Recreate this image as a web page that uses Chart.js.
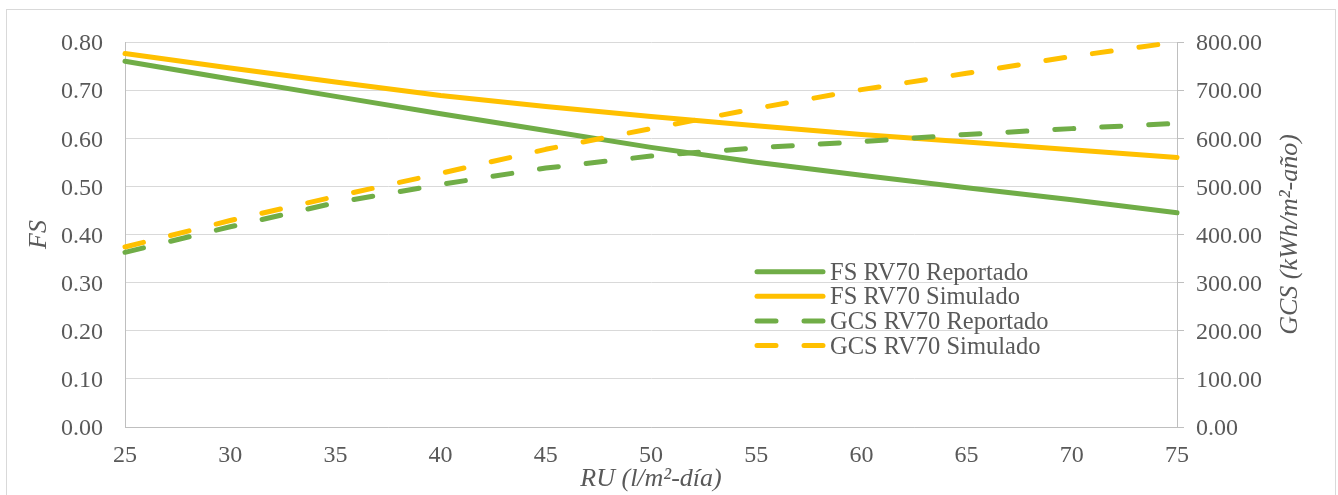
<!DOCTYPE html>
<html>
<head>
<meta charset="utf-8">
<script src="https://cdn.jsdelivr.net/npm/chart.js@4"></script>
<style>
  html, body { margin: 0; padding: 0; background: #fff; }
  #wrap { width: 1338px; height: 495px; }
</style>
</head>
<body>
<div id="wrap"><canvas id="chart"></canvas></div>
<script>
// RU (l/m2-dia) on the x axis
const ru = [25, 30, 35, 40, 45, 50, 55, 60, 65, 70, 75];
// FS, left axis
const fsReportado = [0.760, 0.723, 0.687, 0.651, 0.616, 0.581, 0.550, 0.523, 0.497, 0.472, 0.445];
const fsSimulado = [0.776, 0.746, 0.717, 0.689, 0.666, 0.645, 0.626, 0.608, 0.592, 0.576, 0.560];
// GCS (kWh/m2-año), right axis
const gcsReportado = [363, 416, 466, 504, 538, 563, 580, 593, 608, 620, 631];
const gcsSimulado = [374, 429, 479, 527, 577, 620, 662, 701, 735, 770, 800];

const seriesLabels = ['FS RV70 Reportado', 'FS RV70 Simulado', 'GCS RV70 Reportado', 'GCS RV70 Simulado'];

const GREEN = '#70AD47';
const GOLD = '#FFC000';
const TEXT = '#595959';
const FONT = '"Liberation Serif", "Times New Roman", serif';
const LINE_W = 5;
const DASH = [19, 28];

const pts = (ys) => ru.map((x, i) => ({ x: x, y: ys[i] }));

// chart frame
const framePlugin = {
    id: 'frame',
    beforeDraw(chart) {
        const ctx = chart.ctx;
        ctx.save();
        ctx.strokeStyle = '#d9d9d9';
        ctx.lineWidth = 1;
        ctx.strokeRect(6.5, 9.5, chart.width - 9, chart.height + 10);
        ctx.restore();
    }
};

// right axis title reads bottom to top, like the left one
const rightTitlePlugin = {
    id: 'rightTitle',
    afterDraw(chart) {
        const ctx = chart.ctx;
        const area = chart.chartArea;
        ctx.save();
        ctx.translate(area.right + 113, (area.top + area.bottom) / 2);
        ctx.rotate(-Math.PI / 2);
        ctx.font = 'italic 26px ' + FONT;
        ctx.fillStyle = TEXT;
        ctx.textAlign = 'center';
        ctx.textBaseline = 'middle';
        ctx.fillText('GCS (kWh/m²-año)', 0, 0);
        ctx.restore();
    }
};

// legend sits inside the plot area
const innerLegendPlugin = {
    id: 'innerLegend',
    afterDatasetsDraw(chart) {
        const ctx = chart.ctx;
        const area = chart.chartArea;
        const x0 = area.left + 632;
        const y0 = area.top + 229.7;
        const rowH = 24.6;
        ctx.save();
        chart.data.datasets.forEach((ds, i) => {
            const y = y0 + i * rowH;
            ctx.beginPath();
            ctx.strokeStyle = ds.borderColor;
            ctx.lineWidth = LINE_W;
            ctx.lineCap = 'round';
            ctx.setLineDash(ds.borderDash || []);
            ctx.moveTo(x0, y);
            ctx.lineTo(x0 + 66, y);
            ctx.stroke();
            ctx.setLineDash([]);
            ctx.font = '24.5px ' + FONT;
            ctx.fillStyle = TEXT;
            ctx.textAlign = 'left';
            ctx.textBaseline = 'alphabetic';
            ctx.fillText(ds.label, x0 + 73, y + 8);
        });
        ctx.restore();
    }
};

const ctx = document.getElementById('chart').getContext('2d');
new Chart(ctx, {
    type: 'line',
    data: {
        datasets: [
            { label: seriesLabels[0], data: pts(fsReportado), yAxisID: 'y', borderColor: GREEN, order: 1 },
            { label: seriesLabels[1], data: pts(fsSimulado), yAxisID: 'y', borderColor: GOLD, order: 1 },
            { label: seriesLabels[2], data: pts(gcsReportado), yAxisID: 'y2', borderColor: GREEN, borderDash: DASH, order: 0 },
            { label: seriesLabels[3], data: pts(gcsSimulado), yAxisID: 'y2', borderColor: GOLD, borderDash: DASH, order: 0 },
        ],
    },
    options: {
        responsive: true,
        maintainAspectRatio: false,
        animation: false,
        layout: { padding: { top: 42, left: 0, right: 0, bottom: 0 } },
        datasets: {
            line: {
                borderWidth: LINE_W,
                pointRadius: 0,
                tension: 0,
                fill: false,
                borderCapStyle: 'round',
                borderJoinStyle: 'round',
                clip: false,
            },
        },
        plugins: {
            legend: { display: false },
            tooltip: { enabled: false },
        },
        scales: {
            x: {
                type: 'linear',
                min: 25,
                max: 75,
                afterFit: (s) => { s.height = 68; },
                ticks: { stepSize: 5, color: TEXT, font: { family: FONT, size: 24 }, padding: 6, maxRotation: 0 },
                grid: { display: false },
                border: { display: true, color: '#bfbfbf', width: 1 },
                title: {
                    display: true,
                    text: 'RU (l/m²-día)',
                    color: TEXT,
                    font: { family: FONT, size: 26, style: 'italic' },
                    padding: { top: 0, bottom: 0 },
                },
            },
            y: {
                position: 'left',
                min: 0,
                max: 0.8,
                afterFit: (s) => { s.width = 125; },
                ticks: { stepSize: 0.1, color: TEXT, font: { family: FONT, size: 24 }, padding: 22, labelOffset: 2, callback: (v) => v.toFixed(2) },
                grid: { color: '#d9d9d9', lineWidth: 1, drawTicks: false },
                border: { display: true, color: '#bfbfbf', width: 1 },
                title: {
                    display: true,
                    text: 'FS',
                    color: TEXT,
                    font: { family: FONT, size: 26, style: 'italic' },
                    padding: { top: 24, bottom: 0 },
                },
            },
            y2: {
                position: 'right',
                min: 0,
                max: 800,
                afterFit: (s) => { s.width = 161; },
                ticks: { stepSize: 100, color: TEXT, font: { family: FONT, size: 24 }, padding: 12, labelOffset: 2, callback: (v) => v.toFixed(2) },
                grid: { drawOnChartArea: false, drawTicks: true, tickLength: 7, color: '#bfbfbf' },
                border: { display: true, color: '#bfbfbf', width: 1 },
            },
        },
    },
    plugins: [framePlugin, rightTitlePlugin, innerLegendPlugin],
});
</script>
</body>
</html>
